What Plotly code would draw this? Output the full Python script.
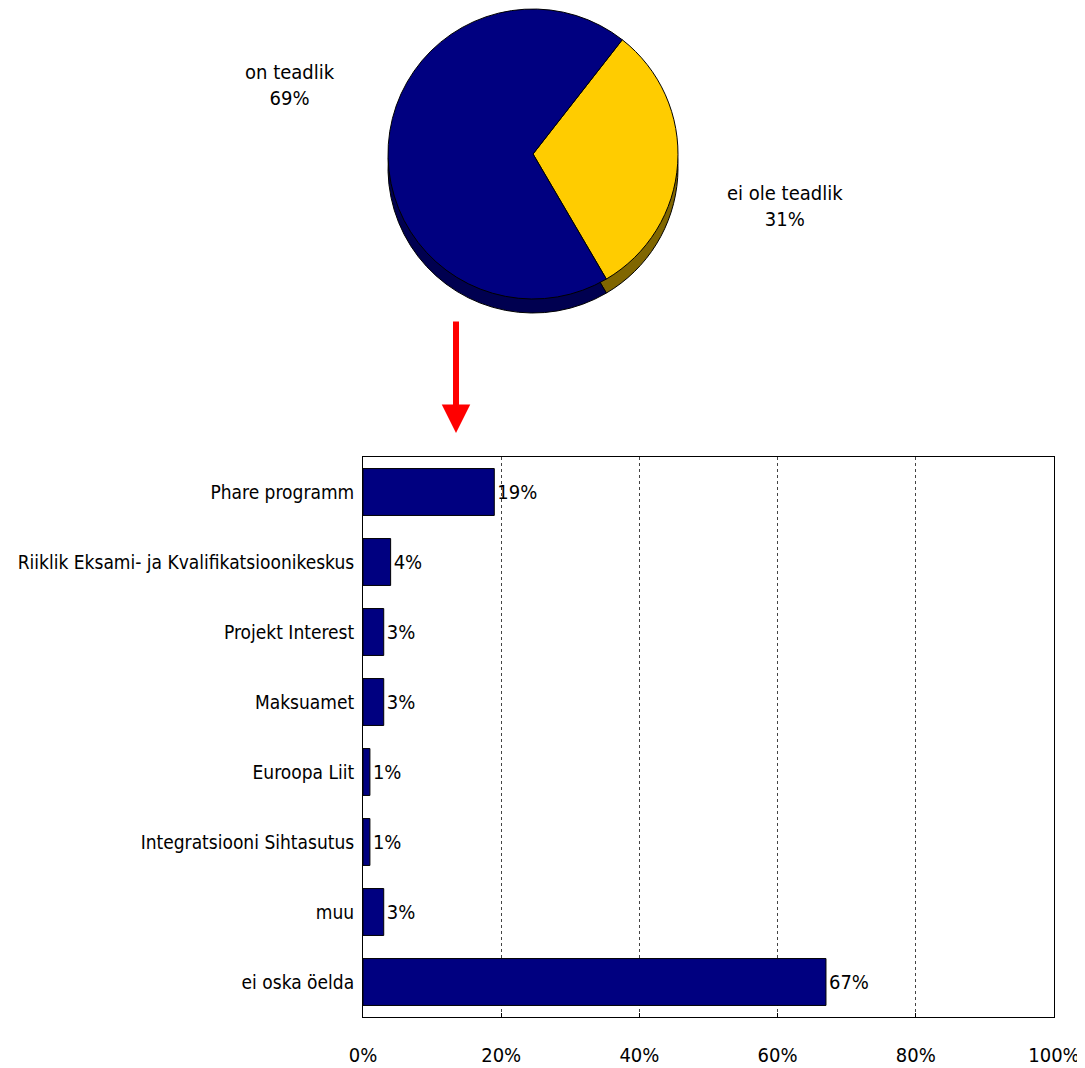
import plotly.graph_objects as go

# ---- data ----
pie_labels = ["ei ole teadlik", "on teadlik"]
pie_values = [31, 69]
pie_colors = ["#FFCC00", "#000080"]
pie_side_colors = ["#806600", "#000050"]

bar_categories = ["Phare programm", "Riiklik Eksami- ja Kvalifikatsioonikeskus",
                  "Projekt Interest", "Maksuamet", "Euroopa Liit",
                  "Integratsiooni Sihtasutus", "muu", "ei oska öelda"]
bar_values = [19, 4, 3, 3, 1, 1, 3, 67]
x_tickvals = [0, 20, 40, 60, 80, 100]
x_ticktext = ["0%", "20%", "40%", "60%", "80%", "100%"]

# page has a default 8px body margin, so the figure is sized/positioned accordingly
OFF = 8
W, H = 1085 - OFF, 1068 - OFF
FONT = "Liberation Sans Narrow, DejaVu Sans Condensed, Arial Narrow, sans-serif"

def px_x(p):
    return min(1.0, max(0.0, (p - OFF) / W))

def px_y(p):
    return min(1.0, max(0.0, 1 - (p - OFF) / H))

fig = go.Figure()

# pie "3D" side (shadow layer shifted down)
cx, cy, r, depth = 533, 154, 145, 14
fig.add_trace(go.Pie(
    labels=pie_labels, values=pie_values, sort=False, direction="clockwise",
    rotation=38, textinfo="none", hoverinfo="skip", showlegend=False,
    marker=dict(colors=pie_side_colors, line=dict(color="black", width=1)),
    domain=dict(x=[px_x(cx - r), px_x(cx + r)], y=[px_y(cy + depth + r), px_y(cy + depth - r)]),
))
fig.add_trace(go.Pie(
    labels=pie_labels, values=pie_values, sort=False, direction="clockwise",
    rotation=38, textinfo="none", showlegend=False,
    marker=dict(colors=pie_colors, line=dict(color="black", width=1)),
    domain=dict(x=[px_x(cx - r), px_x(cx + r)], y=[px_y(cy + r), px_y(cy - r)]),
))

# bars
fig.add_trace(go.Bar(
    y=bar_categories, x=bar_values, orientation="h", width=0.67,
    marker=dict(color="#000080", line=dict(color="black", width=1)),
    text=[f"{v}%" for v in bar_values], textposition="outside",
    textfont=dict(size=20, color="black", family=FONT), cliponaxis=False,
    showlegend=False,
))

fig.update_xaxes(
    domain=[px_x(363), px_x(1054)], range=[0, 100], tickvals=x_tickvals,
    ticktext=x_ticktext, automargin=False,
    showgrid=True, gridcolor="#444444", griddash="dot", gridwidth=1,
    showline=True, mirror=True, linecolor="black", linewidth=1,
    ticks="inside", ticklen=4, tickcolor="black", zeroline=False,
    tickfont=dict(size=20, color="black", family=FONT), ticklabelstandoff=20,
)
fig.update_yaxes(
    domain=[px_y(1017), px_y(457)], autorange="reversed", automargin=False,
    showline=True, mirror=True, linecolor="black", linewidth=1,
    ticks="", tickfont=dict(size=19, color="black", family=FONT),
    ticklabelstandoff=4, showgrid=False,
)

annotations = [
    dict(x=px_x(290), y=px_y(85), xref="paper", yref="paper", showarrow=False,
         xanchor="center", yanchor="middle",
         text=f"{pie_labels[1]}<br>{pie_values[1]}%", align="center",
         font=dict(size=20, color="black", family=FONT)),
    dict(x=px_x(785), y=px_y(206), xref="paper", yref="paper", showarrow=False,
         xanchor="center", yanchor="middle",
         text=f"{pie_labels[0]}<br>{pie_values[0]}%", align="center",
         font=dict(size=20, color="black", family=FONT)),
    dict(x=px_x(456), y=px_y(433), xref="paper", yref="paper", showarrow=True,
         ax=0, ay=-113, axref="pixel", ayref="pixel", text="",
         arrowhead=2, arrowsize=0.95, arrowwidth=6, arrowcolor="#FF0000", standoff=0),
]

fig.update_layout(
    width=W, height=H, margin=dict(l=0, r=0, t=0, b=0, autoexpand=False),
    paper_bgcolor="white", plot_bgcolor="white",
    font=dict(family=FONT, color="black"),
    annotations=annotations, bargap=0.33,
)

fig.write_html("out.html")
